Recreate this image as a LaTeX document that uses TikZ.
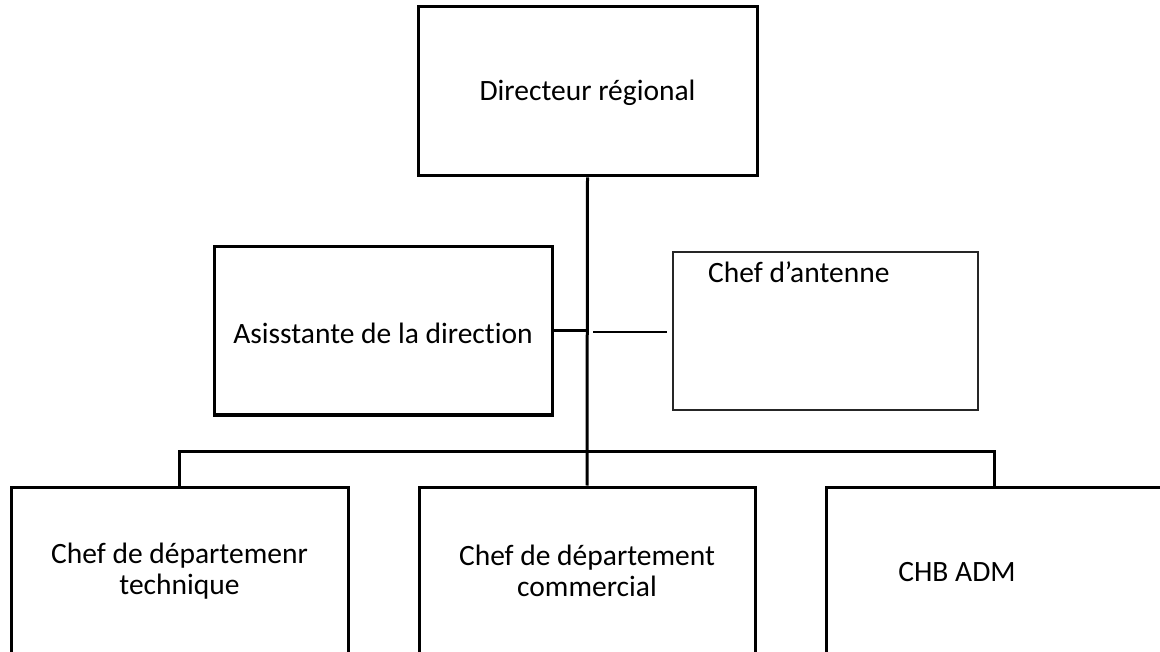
\documentclass[tikz,border=0pt]{standalone}
\usepackage{fontspec}
\setmainfont[Ligatures=NoCommon]{Carlito}
\begin{document}
\begin{tikzpicture}[x=1pt,y=-1pt,
  box/.style={draw=black,line width=3pt,inner sep=0pt,minimum width=337pt},
  thinbox/.style={draw=black!85,line width=1.5pt,inner sep=0pt},
  conn/.style={draw=black,line width=3pt},
  lbl/.style={font=\fontsize{29.5}{31}\selectfont,align=center,inner sep=0pt}]
\useasboundingbox (0,0) rectangle (1160,652);
\clip (0,0) rectangle (1160,652);
% boxes
\node[box,minimum width=339pt,minimum height=169pt] (top) at (587.5,91.5) {};
\node[box,minimum width=338pt,minimum height=168pt] (asst) at (383,331) {};
\node[thinbox,minimum width=305pt,minimum height=158pt] (ant) at (825.5,331) {};
\node[box,minimum height=240pt] (b1) at (179.5,607) {};
\node[box,minimum width=336pt,minimum height=240pt] (b2) at (587,607) {};
\node[box,minimum width=336pt,minimum height=240pt] (b3) at (994,607) {};
% labels
\node[lbl] (ttop) at (587.5,93) {Directeur régional};
\node[lbl] (tasst) at (383,333) {Asisstante de la direction};
\node[lbl,anchor=west] (tant) at (708,272) {Chef d’antenne};
\node[lbl] (tb1) at (179.5,571) {Chef de départemenr\\technique};
\node[lbl] (tb2) at (587,571) {Chef de département\\commercial};
\node[lbl] (tb3) at (957,572) {CHB ADM};
% connectors
\coordinate (bus) at (587,451);
\coordinate (a1) at (593,332);
\coordinate (a2) at (667,332);
\draw[conn] (top.south) -- (b2.north);
\draw[conn] (b1.north) |- (bus) -| (b3.north);
\draw[conn] (asst.east) -- (asst.east -| top.south);
\draw[draw=black,line width=2pt] (a1) -- (a2);
\end{tikzpicture}
\end{document}
